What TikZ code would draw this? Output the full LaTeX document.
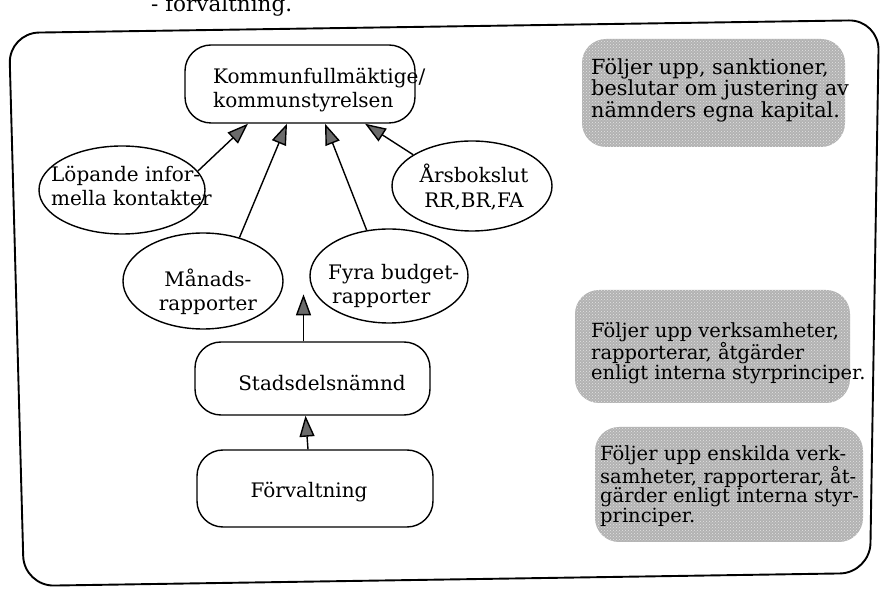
\documentclass[tikz,border=0pt]{standalone}
\usepackage{fontspec}
\setmainfont{DejaVu Serif}
\usetikzlibrary{arrows.meta,shapes.geometric,patterns}

\tikzset{
  txt/.style={font=\fontsize{20}{24.5}\selectfont, inner sep=0pt},
  notetxt/.style={font=\fontsize{19.5}{19.5}\selectfont, inner sep=0pt, align=left},
  bignotetxt/.style={notetxt, font=\fontsize{20.8}{19.8}\selectfont},
  roundbox/.style={draw, line width=1.4pt, rectangle, rounded corners=26pt},
  oval/.style={draw, line width=1.4pt, ellipse, inner sep=0pt},
  shade/.style={rectangle, rounded corners=24pt, inner sep=0pt,
    preaction={fill=gray!60}, pattern=crosshatch dots, pattern color=gray!22},
  up/.style={line width=1.4pt,
    -{Triangle[length=21pt,width=15pt,fill=black!58]}},
  frame/.style={line width=1.9pt, rounded corners=30pt}
}

\begin{document}
\begin{tikzpicture}[x=1pt,y=-1pt]
\useasboundingbox (0,0) rectangle (887,601);
\clip (0,0) rectangle (887,601);

% heading line above the frame
\node[txt, font=\fontsize{21.5}{24}\selectfont, anchor=base west] (head) at (151,12) {- förvaltning.};

% outer frame
\draw[frame] (9,33) -- (879,20) -- (870,573) -- (24,586) -- cycle;

% main boxes
\node[roundbox, minimum width=230pt, minimum height=78pt] (kf) at (300,84) {};
\node[txt, align=left, anchor=west] (kft) at (213,90) {Kommunfullmäktige/\\kommunstyrelsen};

\node[roundbox, minimum width=235pt, minimum height=73pt] (sdn) at (312.5,378.5) {};
\node[txt] (sdnt) at (322,383) {Stadsdelsnämnd};

\node[roundbox, minimum width=236pt, minimum height=77pt] (forv) at (315,488.5) {};
\node[txt] (forvt) at (309,492) {Förvaltning};

% report ellipses
\node[oval, minimum width=166pt, minimum height=88pt] (lop) at (122,190) {};
\node[txt, align=left, anchor=west] (lopt) at (51,186) {Löpande infor-\\mella kontakter};

\node[oval, minimum width=160pt, minimum height=90pt] (ars) at (472,186) {};
\node[txt, align=center] (arst) at (474,187) {Årsbokslut\\RR,BR,FA};

\node[oval, minimum width=160pt, minimum height=96pt] (man) at (203,281) {};
\node[txt, align=center] (mant) at (208,292) {Månads-\\rapporter};

\node[oval, minimum width=158pt, minimum height=94pt] (fyra) at (389,276) {};
\node[txt, align=left, anchor=west] (fyrat) at (328,286) {Fyra budget-\\\hspace*{4pt}rapporter};

% arrows towards the council
\draw[up] (lop.14) -- ([xshift=-52pt]kf.south);
\draw[up] (man.50) -- ([xshift=-13pt]kf.south);
\draw[up] (fyra.116) -- ([xshift=25pt]kf.south);
\draw[up] (ars.152) -- ([xshift=65pt]kf.south);

\coordinate (sdtip) at ([xshift=-9pt,yshift=47pt]sdn.north);
\draw[up] ([xshift=-9pt]sdn.north) -- (sdtip);
\draw[up] ([xshift=-7pt]forv.north) -- ([xshift=-7pt]sdn.south);

% shaded notes
\node[shade, minimum width=263pt, minimum height=108pt] (n1) at (713.5,93) {};
\node[bignotetxt, anchor=west] (n1t) at (591,90)
  {Följer upp, sanktioner,\\beslutar om justering av\\nämnders egna kapital.};

\node[shade, minimum width=275pt, minimum height=113pt] (n2) at (712.5,346.5) {};
\node[notetxt, anchor=west] (n2t) at (591,353)
  {Följer upp verksamheter,\\rapporterar, åtgärder\\enligt interna styrprinciper.};

\node[shade, minimum width=268pt, minimum height=115pt] (n3) at (729,484.5) {};
\node[notetxt, anchor=west] (n3t) at (600,486)
  {Följer upp enskilda verk-\\samheter, rapporterar, åt-\\gärder enligt interna styr-\\principer.};
\end{tikzpicture}
\end{document}
